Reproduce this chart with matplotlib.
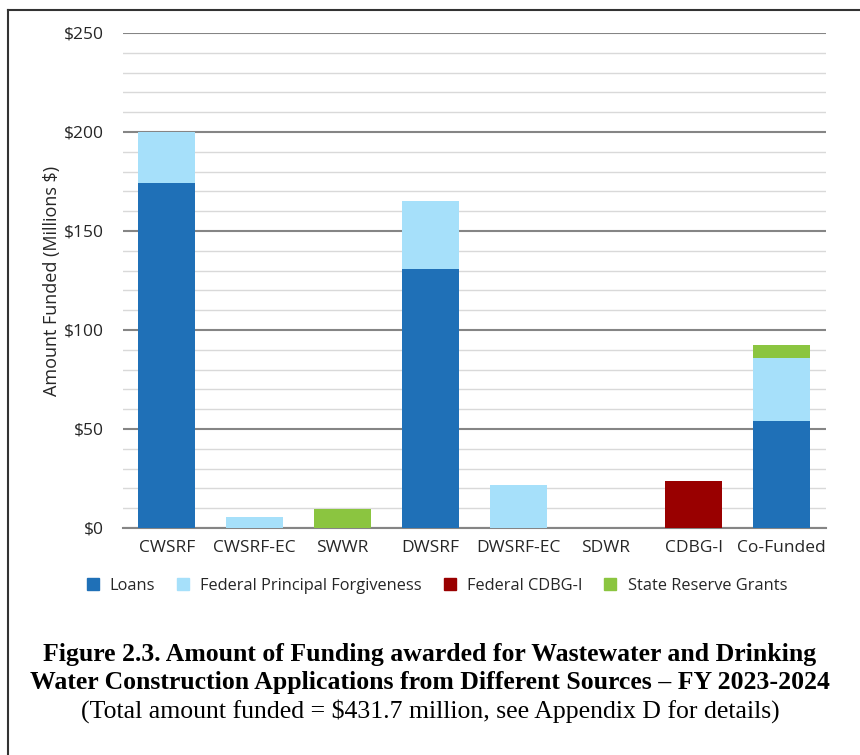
import matplotlib.pyplot as plt
from matplotlib.lines import Line2D
from matplotlib.ticker import MultipleLocator
import numpy as np

# values (millions $)
categories = ['CWSRF', 'CWSRF-EC', 'SWWR', 'DWSRF', 'DWSRF-EC', 'SDWR', 'CDBG-I', 'Co-Funded']
loans = [174, 0, 0, 131, 0, 0, 0, 54]
forgiveness = [26, 5.6, 0, 34, 21.7, 0, 0, 32]
cdbg = [0, 0, 0, 0, 0, 0, 23.7, 0]
reserve = [0, 0, 9.6, 0, 0, 0, 0, 6.5]

series = ['Loans', 'Federal Principal Forgiveness', 'Federal CDBG-I', 'State Reserve Grants']
colors = ['#1F70B7', '#A6E0FA', '#990000', '#8BC540']

caption = ['Figure 2.3. Amount of Funding awarded for Wastewater and Drinking',
           'Water Construction Applications from Different Sources \u2013 FY 2023-2024']
subcaption = '(Total amount funded = $431.7 million, see Appendix D for details)'

plt.rcParams['font.family'] = ['Open Sans', 'DejaVu Sans']

fig = plt.figure(figsize=(8.6, 7.55), dpi=100)
ax = fig.add_axes([0.143, 0.3007, 0.817, 0.6556])

x = np.arange(len(categories))
bottom = np.zeros(len(categories))
for vals, name, c in zip([loans, forgiveness, cdbg, reserve], series, colors):
    ax.bar(x, vals, 0.65, bottom=bottom, color=c, label=name, zorder=3)
    bottom += np.array(vals)

ax.set_xlim(-0.5, len(categories) - 0.5)
ax.set_ylim(0, 250)
ax.yaxis.set_major_locator(MultipleLocator(50))
ax.yaxis.set_minor_locator(MultipleLocator(10))
ax.set_yticklabels([f'${int(v)}' for v in ax.get_yticks()])
ax.set_xticks(x)
ax.set_xticklabels(categories)
ax.grid(axis='y', which='major', color='#858585', linewidth=1.5, zorder=1)
ax.grid(axis='y', which='minor', color='#d9d9d9', linewidth=1, zorder=1)
ax.tick_params(axis='both', which='both', length=0, labelsize=12.5, colors='#262626')
ax.tick_params(axis='y', pad=14)
ax.tick_params(axis='x', pad=9)
for s in ['top', 'right', 'left']:
    ax.spines[s].set_visible(False)
ax.spines['bottom'].set_color('#858585')
ax.spines['bottom'].set_linewidth(1.5)
ax.set_ylabel('Amount Funded (Millions $)', fontsize=13, color='#262626', labelpad=2)

handles = [Line2D([], [], marker='s', linestyle='', markersize=9, color=c) for c in colors]
fig.legend(handles, series, loc='center', bbox_to_anchor=(0.502, 0.224), ncol=4, frameon=False,
           fontsize=11.8, handletextpad=0.05, columnspacing=0.7, labelcolor='#262626')

fig.text(0.5, 1 - 655 / 755, caption[0], ha='center', va='center', fontsize=18.5,
         fontweight='bold', family='Liberation Serif')
fig.text(0.5, 1 - 683 / 755, caption[1], ha='center', va='center', fontsize=18.5,
         fontweight='bold', family='Liberation Serif')
fig.text(0.5, 1 - 711 / 755, subcaption, ha='center', va='center', fontsize=18.5,
         family='Liberation Serif')

# frame lines round the figure (top and left visible)
fig.add_artist(Line2D([8 / 860, 8 / 860], [0, 1 - 10 / 755], color='#333333', linewidth=1.5))
fig.add_artist(Line2D([8 / 860, 1], [1 - 10 / 755, 1 - 10 / 755], color='#333333', linewidth=1.5))

fig.savefig('out.png', dpi=100)
